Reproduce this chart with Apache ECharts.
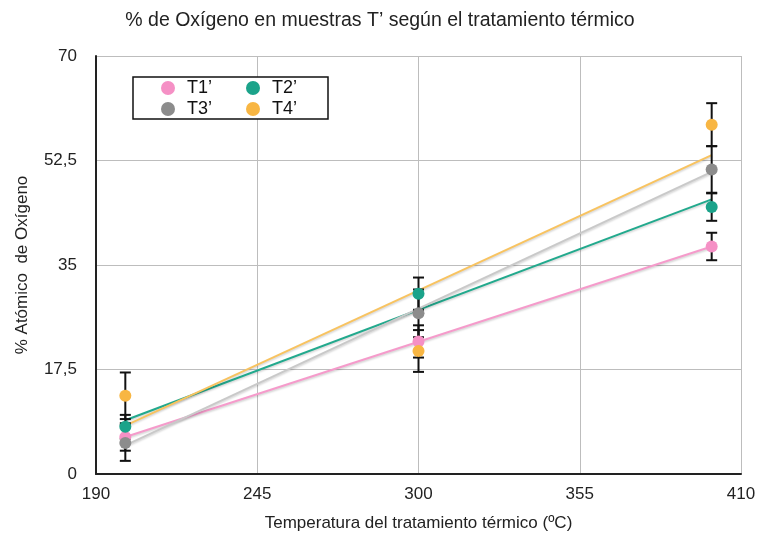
<!DOCTYPE html>
<html>
<head>
<meta charset="utf-8">
<script src="https://cdn.jsdelivr.net/npm/echarts@6/dist/echarts.min.js"></script>
<style>html,body{margin:0;padding:0;background:#fff;}#c{width:760px;height:533px;}</style>
</head>
<body>
<div id="c"></div>
<script>
// ---- data ----
const temps = [200, 300, 400];
const seriesNames = ['T1’', 'T2’', 'T3’', 'T4’'];
const t1Values = [6.2, 22.2, 38.1];
const t2Values = [7.9, 30.2, 44.7];
const t3Values = [5.2, 26.9, 51.0];
const t4Values = [13.1, 20.6, 58.5];
const t1Errors = [2.3, 2.7, 2.3];
const t2Errors = [2.0, 2.7, 2.3];
const t3Errors = [3.0, 4.0, 3.9];
const t4Errors = [3.9, 3.5, 3.6];
// trend line endpoints (at 200 and 400 ºC)
const trendX = [200, 400];
const t1Trend = [6.2, 38.1];
const t2Trend = [9.0, 46.0];
const t3Trend = [4.8, 50.6];
const t4Trend = [8.1, 53.4];
const xTicks = [190, 245, 300, 355, 410];

const dotColors = ['#F590C5', '#1BA38A', '#8C8C8C', '#F8B643'];
const lineColors = ['#F59BCB', '#22A98D', '#C9C9C9', '#F8C360'];

const values = [t1Values, t2Values, t3Values, t4Values];
const errors = [t1Errors, t2Errors, t3Errors, t4Errors];
const trends = [t1Trend, t2Trend, t3Trend, t4Trend];
const FONT = 'Liberation Sans, Arial, sans-serif';

const series = [];
trends.forEach((tr, i) => {
  series.push({
    name: seriesNames[i] + ' trend',
    type: 'line',
    data: trendX.map((x, k) => [x, tr[k]]),
    symbol: 'none',
    silent: true,
    z: 2,
    lineStyle: { color: lineColors[i], width: 2, shadowColor: 'rgba(0,0,0,0.18)', shadowBlur: 2, shadowOffsetY: 1.5 }
  });
});
values.forEach((vals, i) => {
  series.push({
    name: seriesNames[i] + ' err',
    type: 'custom',
    z: 3,
    silent: true,
    data: temps.map((x, k) => [x, vals[k], errors[i][k]]),
    renderItem: function (params, api) {
      const x = api.value(0), y = api.value(1), e = api.value(2);
      const top = api.coord([x, y + e]);
      const bot = api.coord([x, y - e]);
      const w = 5.5;
      const st = { stroke: '#111', lineWidth: 2 };
      return {
        type: 'group',
        children: [
          { type: 'line', shape: { x1: top[0], y1: top[1], x2: bot[0], y2: bot[1] }, style: st },
          { type: 'line', shape: { x1: top[0] - w, y1: top[1], x2: top[0] + w, y2: top[1] }, style: st },
          { type: 'line', shape: { x1: bot[0] - w, y1: bot[1], x2: bot[0] + w, y2: bot[1] }, style: st }
        ]
      };
    }
  });
});
values.forEach((vals, i) => {
  series.push({
    name: seriesNames[i],
    type: 'scatter',
    z: 4,
    symbol: 'circle',
    symbolSize: 12,
    itemStyle: { color: dotColors[i], opacity: 1 },
    data: temps.map((x, k) => [x, vals[k]])
  });
});

const chart = echarts.init(document.getElementById('c'), null, { renderer: 'canvas' });
chart.setOption({
  animation: false,
  backgroundColor: '#fff',
  textStyle: { fontFamily: FONT },
  title: {
    text: '% de Oxígeno en muestras T’ según el tratamiento térmico',
    left: 'center',
    top: 6,
    textStyle: { fontSize: 19.5, fontWeight: 'normal', color: '#222', fontFamily: FONT }
  },
  legend: {
    data: seriesNames,
    left: 133,
    top: 77,
    width: 175,
    orient: 'horizontal',
    icon: 'circle',
    itemWidth: 14,
    itemHeight: 14,
    itemGap: 3,
    padding: [2, 0, 1, 28],
    backgroundColor: '#fff',
    borderColor: '#111',
    borderWidth: 1.5,
    borderRadius: 0,
    textStyle: { fontSize: 18, lineHeight: 18, width: 56, color: '#111', fontFamily: FONT, padding: [0, 0, 0, 7] }
  },
  grid: { left: 96, right: 19, top: 56, bottom: 59, containLabel: false, outerBoundsMode: 'none' },
  xAxis: {
    type: 'value',
    min: 190,
    max: 410,
    name: 'Temperatura del tratamiento térmico (ºC)',
    nameLocation: 'middle',
    nameGap: 41,
    nameTextStyle: { fontSize: 17, color: '#222' },
    axisLine: { show: true, lineStyle: { color: '#222', width: 2 } },
    axisTick: { show: false, customValues: xTicks },
    axisLabel: { customValues: xTicks, fontSize: 17, color: '#222', margin: 12 },
    splitLine: { show: true, lineStyle: { color: '#BDBDBD', width: 1 } }
  },
  yAxis: {
    type: 'value',
    min: 0,
    max: 70,
    interval: 17.5,
    name: '% Atómico  de Oxígeno',
    nameLocation: 'middle',
    nameGap: 65,
    nameTextStyle: { fontSize: 17, color: '#222' },
    axisLine: { show: true, lineStyle: { color: '#222', width: 2 } },
    axisTick: { show: false },
    axisLabel: { fontSize: 17, color: '#222', margin: 19, formatter: v => String(v).replace('.', ',') },
    splitLine: { show: true, lineStyle: { color: '#BDBDBD', width: 1 } }
  },
  series: series
});
</script>
</body>
</html>
